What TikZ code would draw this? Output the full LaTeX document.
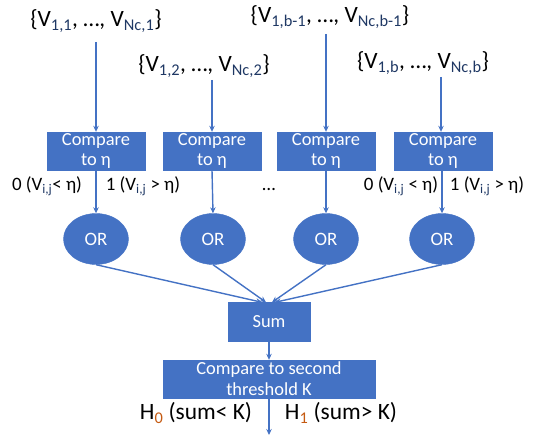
\documentclass[tikz,border=0pt]{standalone}
\usepackage{fontspec}
\setmainfont{Carlito}
\usetikzlibrary{shapes.geometric,arrows.meta}
\definecolor{obox}{HTML}{4472C4}
\definecolor{subblue}{HTML}{1F3864}
\definecolor{suborange}{HTML}{C55A11}
\newcommand{\sbb}[1]{\textsubscript{\color{subblue}#1}}
\newcommand{\sbo}[1]{\textsubscript{\color{suborange}#1}}
\begin{document}
\begin{tikzpicture}[x=1bp,y=-1bp,
  blk/.style={draw=obox,fill=obox,text=white,inner sep=0pt,align=center,font=\fontsize{18.5}{21}\selectfont},
  orn/.style={ellipse,draw=obox,fill=obox,text=white,minimum width=65bp,minimum height=51bp,inner sep=0pt,font=\fontsize{19}{22}\selectfont},
  toplab/.style={inner sep=0pt,font=\fontsize{23.5}{27}\selectfont},
  smlab/.style={inner sep=0pt,font=\fontsize{19}{22}\selectfont},
  hlab/.style={inner sep=0pt,font=\fontsize{23.5}{27}\selectfont},
  arr/.style={draw=obox,line width=1.4bp,-{Stealth[length=6bp,width=5.5bp]}}]
\useasboundingbox (0,0) rectangle (541,435);
% top labels
\node[toplab] (t1) at (96,21) {\{V\sbb{1,1}, …, V\sbb{Nc,1}\}};
\node[toplab] (t2) at (204,66) {\{V\sbb{1,2}, …, V\sbb{Nc,2}\}};
\node[toplab] (t3) at (330,17) {\{V\sbb{1,b-1}, …, V\sbb{Nc,b-1}\}};
\node[toplab] (t4) at (423,63) {\{V\sbb{1,b}, …, V\sbb{Nc,b}\}};
\coordinate (s1) at (96,42);
\coordinate (s2) at (212,80);
\coordinate (s3) at (326,34);
\coordinate (s4) at (441,77);
% compare boxes
\node[blk,minimum width=98bp,minimum height=38bp] (c1) at (96,151) {Compare\\to η};
\node[blk,minimum width=98bp,minimum height=38bp] (c2) at (212,151) {Compare\\to η};
\node[blk,minimum width=98bp,minimum height=38bp] (c3) at (326,151) {Compare\\to η};
\node[blk,minimum width=98bp,minimum height=38bp] (c4) at (443,151) {Compare\\to η};
% OR
\node[orn] (o1) at (96,239) {OR};
\node[orn] (o2) at (213,239) {OR};
\node[orn] (o3) at (326,239) {OR};
\node[orn] (o4) at (442,239) {OR};
% labels
\node[smlab] (l1) at (47,186) {0 (V\sbb{i,j}< η)};
\node[smlab] (l2) at (143,186) {1 (V\sbb{i,j} > η)};
\node[smlab] (dots) at (269,190) {…};
\node[smlab] (l3) at (401,186) {0 (V\sbb{i,j} < η)};
\node[smlab] (l4) at (487,186) {1 (V\sbb{i,j} > η)};
% sum
\node[blk,minimum width=82bp,minimum height=39bp] (sum) at (269,322) {Sum};
\node[blk,minimum width=212bp,minimum height=38bp] (c5) at (269,379) {Compare to second\\threshold K};
\coordinate (out) at (269,435);
\node[hlab] (h0) at (196,413) {H\sbo{0} (sum< K)};
\node[hlab] (h1) at (341,413) {H\sbo{1} (sum> K)};
% arrows
\draw[arr] (s1) -- (c1.north);
\draw[arr] (s2) -- (c2.north);
\draw[arr] (s3) -- (c3.north);
\draw[arr] (s4) -- (c4.north -| s4);
\draw[arr] (c1.south) -- (o1.north);
\draw[arr] (c2.south) -- (o2.north);
\draw[arr] (c3.south) -- (o3.north);
\draw[arr] (c4.south -| o4) -- (o4.north);
\draw[arr] (o1.south) -- ([xshift=-7bp]sum.north);
\draw[arr] (o2.south) -- ([xshift=-3bp]sum.north);
\draw[arr] (o3.south) -- ([xshift=3bp]sum.north);
\draw[arr] (o4.south) -- ([xshift=6bp]sum.north);
\draw[arr] (sum.south) -- (c5.north);
\draw[arr] (c5.south) -- (out);
\end{tikzpicture}
\end{document}
